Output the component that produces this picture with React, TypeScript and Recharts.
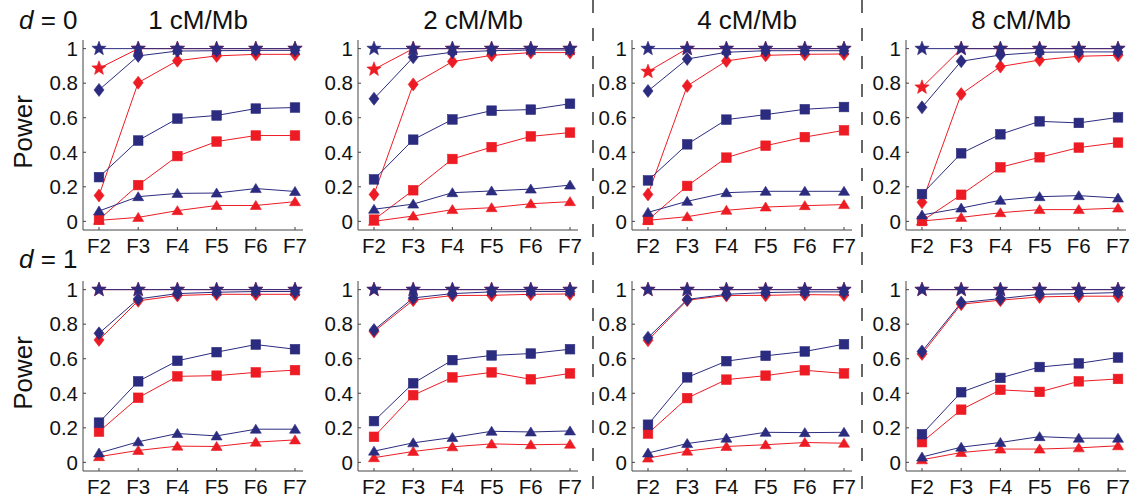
import React from 'react'
import { LineChart, Line, XAxis, YAxis } from 'recharts'

const generations = ['F2', 'F3', 'F4', 'F5', 'F6', 'F7']
const rates = ['1 cM/Mb', '2 cM/Mb', '4 cM/Mb', '8 cM/Mb']
const dominance = ['0', '1']
const powerTicks = [0, 0.2, 0.4, 0.6, 0.8, 1]

// one row per panel: d = 0 (1, 2, 4, 8 cM/Mb), then d = 1 (1, 2, 4, 8 cM/Mb)
const starBlue = [
  [1, 1, 1, 1, 1, 1],
  [1, 1, 1, 1, 1, 1],
  [1, 1, 1, 1, 1, 1],
  [1, 1, 1, 1, 1, 1],
  [1, 1, 1, 1, 1, 1],
  [1, 1, 1, 1, 1, 1],
  [1, 1, 1, 1, 1, 1],
  [1, 1, 1, 1, 1, 1],
]
const starRed = [
  [0.886, 1, 1, 1, 1, 1],
  [0.88, 1, 1, 1, 1, 1],
  [0.867, 1, 1, 1, 1, 1],
  [0.776, 1, 1, 1, 1, 1],
  [1, 1, 1, 1, 1, 1],
  [1, 1, 1, 1, 1, 1],
  [1, 1, 1, 1, 1, 1],
  [1, 1, 1, 1, 1, 1],
]
const diamondBlue = [
  [0.761, 0.958, 0.986, 0.988, 0.99, 0.99],
  [0.71, 0.95, 0.979, 0.988, 0.992, 0.992],
  [0.755, 0.94, 0.979, 0.988, 0.988, 0.988],
  [0.66, 0.927, 0.963, 0.979, 0.981, 0.981],
  [0.747, 0.946, 0.977, 0.985, 0.989, 0.989],
  [0.766, 0.952, 0.977, 0.987, 0.989, 0.989],
  [0.722, 0.943, 0.973, 0.983, 0.987, 0.987],
  [0.642, 0.925, 0.948, 0.973, 0.977, 0.983],
]
const diamondRed = [
  [0.15, 0.803, 0.93, 0.958, 0.967, 0.967],
  [0.156, 0.793, 0.925, 0.961, 0.977, 0.977],
  [0.156, 0.784, 0.929, 0.961, 0.967, 0.969],
  [0.11, 0.737, 0.896, 0.934, 0.956, 0.961],
  [0.709, 0.935, 0.966, 0.973, 0.973, 0.973],
  [0.757, 0.939, 0.966, 0.967, 0.973, 0.975],
  [0.707, 0.939, 0.966, 0.967, 0.971, 0.969],
  [0.628, 0.916, 0.939, 0.958, 0.962, 0.962],
]
const squareBlue = [
  [0.256, 0.468, 0.595, 0.613, 0.653, 0.659],
  [0.243, 0.473, 0.59, 0.641, 0.647, 0.681],
  [0.237, 0.446, 0.589, 0.618, 0.649, 0.662],
  [0.158, 0.394, 0.504, 0.579, 0.57, 0.602],
  [0.23, 0.469, 0.588, 0.638, 0.682, 0.655],
  [0.239, 0.458, 0.592, 0.619, 0.63, 0.655],
  [0.218, 0.492, 0.586, 0.617, 0.642, 0.684],
  [0.163, 0.406, 0.489, 0.552, 0.573, 0.607],
]
const squareRed = [
  [0.01, 0.21, 0.378, 0.462, 0.497, 0.497],
  [0.01, 0.18, 0.361, 0.43, 0.492, 0.514],
  [0.008, 0.205, 0.369, 0.438, 0.488, 0.527],
  [0.002, 0.154, 0.313, 0.371, 0.427, 0.456],
  [0.178, 0.374, 0.498, 0.502, 0.521, 0.534],
  [0.148, 0.389, 0.492, 0.521, 0.481, 0.515],
  [0.167, 0.372, 0.479, 0.502, 0.533, 0.515],
  [0.117, 0.305, 0.42, 0.408, 0.469, 0.483],
]
const triangleBlue = [
  [0.06, 0.143, 0.162, 0.164, 0.19, 0.173],
  [0.07, 0.1, 0.166, 0.176, 0.187, 0.21],
  [0.052, 0.116, 0.166, 0.174, 0.174, 0.174],
  [0.037, 0.077, 0.122, 0.143, 0.149, 0.135],
  [0.054, 0.119, 0.167, 0.153, 0.192, 0.192],
  [0.065, 0.113, 0.144, 0.18, 0.176, 0.182],
  [0.054, 0.109, 0.14, 0.174, 0.172, 0.174],
  [0.031, 0.088, 0.115, 0.149, 0.14, 0.14],
]
const triangleRed = [
  [0.006, 0.023, 0.062, 0.092, 0.092, 0.114],
  [0, 0.031, 0.068, 0.079, 0.102, 0.114],
  [0.006, 0.027, 0.064, 0.083, 0.091, 0.097],
  [0.002, 0.023, 0.05, 0.068, 0.068, 0.077],
  [0.033, 0.069, 0.094, 0.092, 0.117, 0.13],
  [0.027, 0.063, 0.09, 0.107, 0.102, 0.105],
  [0.025, 0.065, 0.092, 0.102, 0.115, 0.111],
  [0.015, 0.057, 0.077, 0.077, 0.084, 0.096],
]

const BLUE = '#2b2c7f'
const RED = '#ed1c24'
const FONT = '"Liberation Sans", Arial, Helvetica, sans-serif'
const AXIS = '#444'

// reds first so the blue markers sit on top
const series = [
  { key: 'starRed', values: starRed, color: RED, shape: 'star' },
  { key: 'diamondRed', values: diamondRed, color: RED, shape: 'diamond' },
  { key: 'squareRed', values: squareRed, color: RED, shape: 'square' },
  { key: 'triangleRed', values: triangleRed, color: RED, shape: 'triangle' },
  { key: 'starBlue', values: starBlue, color: BLUE, shape: 'star' },
  { key: 'diamondBlue', values: diamondBlue, color: BLUE, shape: 'diamond' },
  { key: 'squareBlue', values: squareBlue, color: BLUE, shape: 'square' },
  { key: 'triangleBlue', values: triangleBlue, color: BLUE, shape: 'triangle' },
]

// layout of the panel grid
const panelLefts = [83, 358, 632, 906]
const panelTops = [40, 281]
const plotW = 220
const plotH = 190
const yAxisW = 50
const xAxisH = 34
const padTop = 10
const padRight = 10

function starPath(cx: number, cy: number, R: number) {
  const pts: string[] = []
  for (let i = 0; i < 10; i++) {
    const a = ((-90 + i * 36) * Math.PI) / 180
    const r = i % 2 === 0 ? R : R * 0.42
    pts.push(`${(cx + r * Math.cos(a)).toFixed(2)},${(cy + r * Math.sin(a)).toFixed(2)}`)
  }
  return `M${pts.join('L')}Z`
}

function markerDot(shape: string, color: string) {
  return (props: any) => {
    const { cx, cy, index } = props
    const k = `${shape}-${color}-${index}`
    if (cx == null || cy == null) return <g key={k} />
    const common = { fill: color, stroke: color, strokeWidth: 0.6 }
    if (shape === 'star') return <path key={k} d={starPath(cx, cy, 7.5)} {...common} />
    if (shape === 'diamond')
      return <path key={k} d={`M${cx},${cy - 6.5}L${cx + 5},${cy}L${cx},${cy + 6.5}L${cx - 5},${cy}Z`} {...common} />
    if (shape === 'square') return <rect key={k} x={cx - 4.8} y={cy - 4.8} width={9.6} height={9.6} {...common} />
    return <path key={k} d={`M${cx},${cy - 5}L${cx + 5.5},${cy + 4}L${cx - 5.5},${cy + 4}Z`} {...common} />
  }
}

function Panel({ index }: { index: number }) {
  const row = Math.floor(index / 4)
  const col = index % 4
  const data = generations.map((g, i) => {
    const d: Record<string, any> = { gen: g }
    series.forEach((s) => {
      d[s.key] = s.values[index][i]
    })
    return d
  })
  return (
    <div
      style={{
        position: 'absolute',
        left: panelLefts[col] - yAxisW,
        top: panelTops[row] - padTop,
      }}
    >
      <LineChart
        width={yAxisW + plotW + padRight}
        height={padTop + plotH + xAxisH}
        data={data}
        margin={{ top: padTop, right: padRight, bottom: 0, left: 0 }}
      >
        <XAxis
          dataKey="gen"
          padding={{ left: 16, right: 8 }}
          height={xAxisH}
          tickLine={{ stroke: AXIS }}
          tickSize={-3}
          tickMargin={11}
          axisLine={{ stroke: AXIS, strokeWidth: 1 }}
          tick={{ fill: '#111', fontSize: 20.5, fontFamily: FONT }}
          interval={0}
        />
        <YAxis
          type="number"
          domain={[-0.05, 1.05]}
          ticks={powerTicks}
          width={yAxisW}
          tickLine={{ stroke: AXIS }}
          tickSize={-3}
          tickMargin={8}
          axisLine={{ stroke: AXIS, strokeWidth: 1 }}
          tick={{ fill: '#111', fontSize: 20.5, fontFamily: FONT }}
          tickFormatter={(v: number) => String(v)}
          allowDataOverflow
        />
        {series.map((s) => (
          <Line
            key={s.key}
            dataKey={s.key}
            stroke={s.color}
            strokeWidth={1}
            dot={markerDot(s.shape, s.color)}
            activeDot={false}
            isAnimationActive={false}
          />
        ))}
      </LineChart>
    </div>
  )
}

export default function App() {
  return (
    <div style={{ position: 'absolute', left: 0, top: 0, width: 1133, height: 498, background: '#fff' }}>
      <svg
        width={1133}
        height={498}
        style={{ position: 'absolute', left: 0, top: 0 }}
        fontFamily={FONT}
      >
        {[593, 862].map((x) => (
          <line key={x} x1={x} x2={x} y1={0} y2={498} stroke="#666" strokeWidth={2} strokeDasharray="13 15" />
        ))}
        {rates.map((r, i) => (
          <text key={r} x={panelLefts[i] + plotW / 2 + 5} y={29} textAnchor="middle" fontSize={26} fill="#111">
            {r}
          </text>
        ))}
        {dominance.map((d, i) => (
          <text key={d} x={19} y={i === 0 ? 29 : 268} fontSize={26} fill="#111">
            <tspan fontStyle="italic">d</tspan> = {d}
          </text>
        ))}
        {panelTops.map((t) => (
          <text
            key={t}
            x={32}
            y={t + 92}
            textAnchor="middle"
            fontSize={26}
            fill="#111"
            transform={`rotate(-90 32 ${t + 92})`}
          >
            Power
          </text>
        ))}
      </svg>
      {[0, 1, 2, 3, 4, 5, 6, 7].map((i) => (
        <Panel key={i} index={i} />
      ))}
    </div>
  )
}
